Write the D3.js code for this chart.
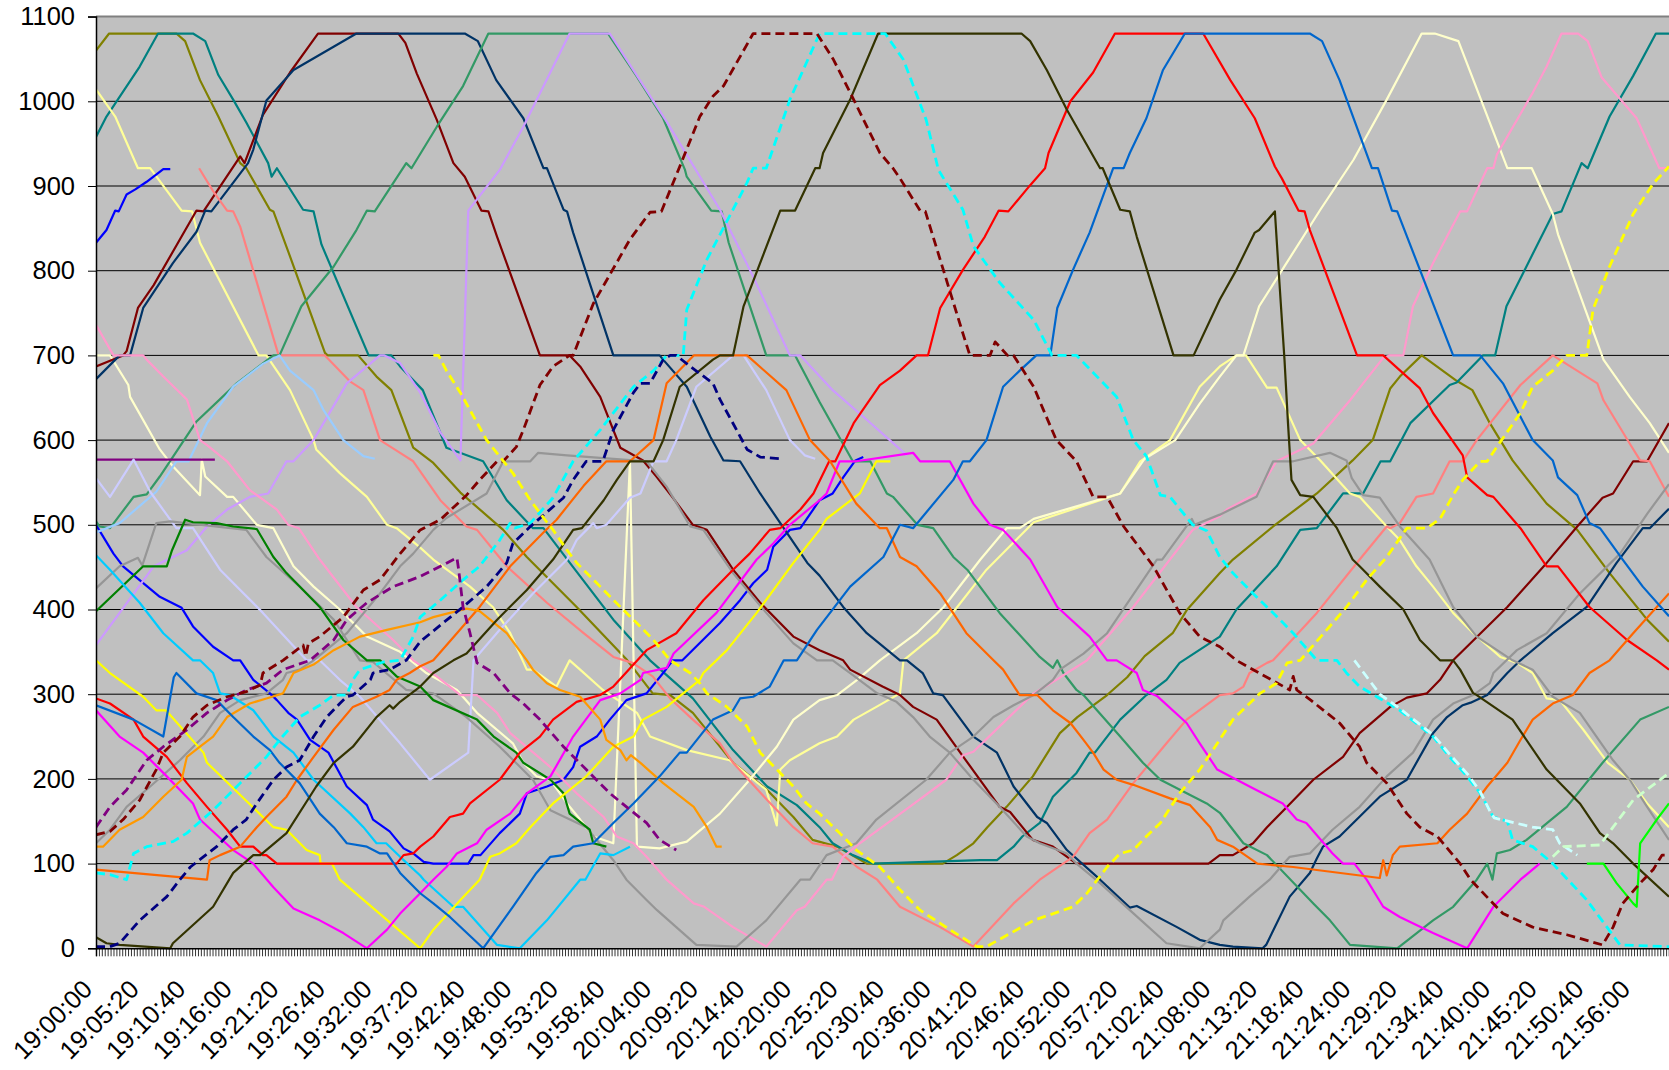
<!DOCTYPE html>
<html>
<head>
<meta charset="utf-8">
<script src="https://cdn.jsdelivr.net/npm/d3@7"></script>
<style>
  body { margin: 0; background: #fff; }
  svg { display: block; font-family: "Liberation Sans", Arial, sans-serif; }
</style>
</head>
<body>
<div id="chart"></div>
<script>
// Each series: [minutes after 19:00:00, position]
const olive = [[0,1060],[1.5,1080],[9.2,1080],[10.2,1071],[11.9,1025],[14,982],[16.5,927],[17.2,921],[19.9,872],[20.3,870],[22.2,817],[26.2,703],[26.5,700],[30,700],[32.1,675],[33.8,659],[36.3,591],[37.1,585],[38.6,573],[41.7,538],[46.6,494],[49.3,462],[55,403],[60.8,340],[63.7,301],[65.7,299],[68.3,278],[72.9,219],[76.8,187],[79.8,155],[82,128],[84.8,120],[88.2,100],[96.9,100],[98.5,110],[100.4,124],[102,143],[104.2,167],[107.2,203],[110.3,254],[112.3,273],[115.7,299],[118,320],[120,345],[123.2,372],[124.8,399],[128.6,443],[130.1,459],[134.7,498],[139.7,537],[143.8,576],[146.1,600],[148.1,661],[149.2,675],[151.7,700],[155.7,670],[157.5,659],[159.5,620],[162.1,576],[166,525],[169.5,494],[173.2,443],[177.5,388],[180,362]];
const teal = [[0,958],[1.2,982],[5,1041],[7.1,1080],[11.1,1080],[12.5,1071],[14,1031],[15.7,1002],[17.2,975],[19.7,927],[20.1,911],[20.7,921],[23.7,872],[24.9,870],[25.8,831],[31.2,700],[33.8,700],[34.8,687],[37.4,659],[40.1,591],[44.3,575],[47,529],[50,496],[51.2,496],[54.6,450],[59.2,388],[63.4,340],[68.3,295],[72.9,234],[76.8,191],[80.2,169],[82.8,143],[84.3,124],[86.6,110],[88.9,100],[101.2,104],[103.1,104],[105,120],[106,132],[108,148],[109.5,179],[112.2,207],[113.7,231],[114.3,231],[117.2,270],[120.2,299],[122.5,317],[124,337],[128.6,368],[130.5,400],[135.1,451],[137.8,494],[139.7,496],[142.7,537],[145,537],[147,575],[148.1,575],[150.4,620],[154.9,665],[155.7,668],[158.7,700],[160.1,700],[161.4,758],[163.3,797],[166.7,867],[167.7,870],[170,927],[170.7,921],[173.2,982],[175.9,1030],[178.5,1080],[180,1080]];
const darkRed = [[0,687],[3.1,700],[3.5,705],[4.8,756],[6.6,783],[11.5,871],[12.3,870],[16.5,935],[17,927],[19.1,984],[22.2,1034],[25.4,1080],[34.6,1080],[35.4,1069],[36.7,1033],[39,978],[40.9,927],[42.2,911],[44.1,871],[44.9,870],[45.9,840],[50.8,700],[54.2,700],[55.4,687],[57.7,651],[60,591],[62.6,576],[64.2,556],[66,532],[68.3,500],[69.9,494],[72.9,447],[76,408],[79.8,368],[82.8,352],[85.5,340],[86.3,329],[90,309],[92,299],[93.5,285],[96.2,270],[98.9,231],[103.4,167],[104.6,161],[107.2,128],[109.5,120],[112.2,100],[127.3,100],[128.6,110],[130.1,110],[132.4,124],[134,143],[136.3,167],[139.3,199],[142.7,226],[144.6,254],[148.1,285],[150,296],[152.3,301],[153.8,317],[155.3,340],[161.5,403],[166,455],[169.5,498],[172.4,532],[173.6,537],[175.9,575],[177.5,575],[180,620]];
const navyBlue = [[0,672],[2.7,700],[3.9,700],[5.4,756],[8.8,809],[11.5,846],[12.5,871],[13.2,870],[17.4,927],[18,943],[19.5,1001],[22.6,1037],[29.8,1080],[42.2,1080],[43.7,1071],[45.8,1025],[48.9,980],[51.2,921],[51.6,921],[53.5,872],[53.9,870],[54.6,845],[59.2,700],[64.5,700],[64.9,695],[67.6,663],[70.3,604],[71.8,576],[73.7,575],[76,537],[81.4,455],[82.8,440],[85.5,403],[88.2,372],[92,340],[92.8,340],[94.6,325],[95.8,301],[96.9,299],[100.4,250],[103.1,231],[105,191],[107.7,155],[108.8,148],[111.1,116],[114.9,81],[118.3,48],[119.1,50],[123.7,25],[126.3,10],[128.6,4],[130.1,2],[133.5,0],[133.9,4],[136.6,61],[138.9,89],[139.7,106],[140.4,120],[142.3,132],[146.9,179],[150,199],[153,254],[154.6,273],[156.4,287],[157.3,290],[159.2,299],[161.5,325],[163,340],[166.7,372],[170.6,403],[174,455],[177,496],[177.8,496],[180,519]];
const blueShort = [[0,833],[1.2,848],[2.2,871],[2.6,870],[3.5,890],[4.5,896],[5.8,905],[7.7,920],[8.5,920]];
const blue = [[0,500],[2,466],[3.1,451],[7.3,415],[9.8,402],[11.1,380],[13.4,356],[15.7,340],[16.5,340],[18,317],[19.9,301],[20.7,293],[22,278],[23,270],[24.5,246],[26.6,231],[28.7,191],[31,169],[31.7,152],[33.6,138],[35.2,118],[36.3,112],[37.5,102],[38.6,100],[42.6,100],[43.2,110],[44,110],[46.2,136],[48.5,159],[49.3,183],[51.6,191],[53.5,199],[54.6,214],[55.4,238],[57.3,250],[58.8,270],[60.7,293],[63,301],[64.9,325],[66,340],[67.1,340],[71.4,384],[73.7,411],[75.2,431],[76.8,447],[77.5,474],[79.4,494],[80.6,496],[82.8,529],[84.3,537],[85.5,556],[86.9,576],[87.8,580]];
const salmon = [[11.8,921],[13.4,894],[15,871],[15.7,870],[16.5,852],[20.9,700],[26.2,700],[29.1,669],[30.6,659],[32.5,600],[34.8,585],[36.3,575],[39.4,529],[42.4,498],[43.6,494],[47,451],[51.6,408],[55.8,372],[59.2,344],[61.4,337],[63.7,321],[65.7,295],[68.3,270],[71.4,242],[72.9,219],[76.8,175],[79.8,143],[82,124],[84.3,120],[87.1,96],[89.4,81],[92,49],[96.6,25],[100.4,2],[105,53],[108,81],[111.8,108],[113.7,136],[115.7,152],[118.7,195],[122.5,242],[124.8,270],[128.6,299],[130.1,301],[131.3,309],[132,325],[134,337],[134.7,340],[139.7,396],[144.6,459],[147.7,498],[148.1,496],[149.2,502],[151.1,533],[153,537],[154.9,575],[156.4,575],[158,600],[163,665],[166.7,700],[171.8,667],[172.5,647],[175.5,596],[176.7,576],[177.8,575],[180,533]];
const seaGreen = [[0,504],[0.4,498],[1.6,496],[4.3,533],[5.8,536],[7.3,557],[11.5,622],[16.1,667],[20.3,700],[21,700],[23.5,758],[27.2,805],[29.8,848],[31,871],[31.9,870],[35.5,927],[36.1,921],[39,970],[42,1018],[44.9,1080],[58.6,1080],[61.9,1029],[64.9,980],[67.4,919],[67.6,911],[70.4,871],[71.6,870],[72.4,833],[76.7,700],[80,700],[82.8,645],[86.6,575],[88.6,575],[90.5,537],[91.2,533],[94,500],[95.8,496],[98.1,462],[99.7,447],[103.4,396],[108,344],[109.5,331],[110,340],[110.7,325],[112.2,305],[113,299],[117.2,250],[119.8,219],[121.8,199],[127.1,171],[128.6,160],[130.1,140],[131.3,124],[134,110],[139.3,53],[141.2,33],[143.5,4],[148.9,0],[153,33],[155.3,49],[158,81],[159.2,100],[159.8,81],[160.3,112],[161.8,116],[163.7,128],[168.3,167],[172.4,219],[176.7,270],[180,285]];
const lavender = [[0,358],[6.6,451],[10.4,470],[12.7,498],[15,518],[17.6,533],[19.7,537],[21.8,575],[22.6,575],[24.9,600],[28.7,667],[32.5,700],[33,700],[34.8,691],[37.1,656],[39.4,609],[41.7,576],[42.6,871],[46.2,919],[48.9,970],[54.2,1080],[58.8,1080],[65.3,976],[71.4,872],[75.2,793],[79.4,700],[80.6,700],[84.3,659],[88.2,624],[92.8,582]];
const lightBlue = [[0,491],[2.7,502],[6.9,539],[9.2,575],[10.6,575],[12.7,620],[15.7,663],[19.1,690],[21,700],[22.2,682],[24.9,659],[26,636],[28.3,600],[30.6,581],[31.9,578]];
const pink = [[0,736],[2,700],[5.4,700],[5.8,695],[7.7,675],[10.4,648],[11.9,600],[12.7,594],[15,575],[17.6,541],[20.7,518],[22,500],[23.2,496],[25.6,459],[29.8,403],[34,364],[36.3,340],[39,321],[41.7,299],[43.6,299],[45.9,278],[47.4,254],[52,214],[55,183],[58.1,155],[59.6,132],[61.5,124],[63,108],[65.3,81],[68.4,53],[69.6,49],[72.9,25],[76.7,2],[80.2,45],[81.1,49],[83.6,81],[84.2,81],[85.5,108],[87.4,124],[93.1,167],[97.3,199],[99.2,228],[100.4,232],[104.2,270],[107.3,301],[109.9,317],[111.1,325],[113.4,340],[118.7,403],[125.5,494],[128.6,510],[129.4,518],[132.8,537],[135.1,575],[139.3,596],[143.5,647],[145,667],[147.3,697],[148,700],[149.6,700],[150.7,758],[153,809],[156.1,870],[156.9,870],[159.2,921],[159.9,921],[160.3,937],[164.4,1010],[166,1041],[167.7,1080],[169.6,1080],[170.7,1071],[172.3,1028],[176.3,980],[178.9,921],[180,921]];
const purple = [[0,577],[13.6,577]];
const periwinkle = [[0,555],[1.6,533],[4.3,577],[6.2,539],[9.2,496],[11.1,496],[14.2,447],[19.1,396],[24.1,340],[25.6,340],[27.9,317],[30.2,297],[34.8,242],[38.2,199],[42.6,231],[43.2,340],[46.2,376],[50,419],[53.9,459],[55,482],[56.9,502],[57.3,496],[58.4,500],[61.1,532],[62.3,537],[63.8,575],[65.3,575],[66.4,600],[68.7,663],[72.9,700],[74.1,700],[76.7,659],[79.4,600],[81.1,582],[82.3,578]];
const grayA = [[0,425],[2.7,451],[4.8,461],[5.3,452],[6.9,502],[8.5,504],[17.2,494],[19.5,462],[23.3,427],[27.2,388],[30.2,340],[31.7,338],[35.5,305],[38.6,301],[42.4,273],[46.2,238],[50,199],[52,163],[56.1,143],[59.2,104],[60.7,81],[63,57],[64.2,45],[68.7,4],[73.3,2],[76.7,33],[80.6,81],[81.7,81],[83.6,110],[87,124],[89.3,152],[95,199],[97.7,231],[100.4,250],[102.7,273],[105,287],[107.3,299],[109.5,317],[110.3,329],[113,348],[115.7,372],[121.4,459],[122,459],[125.4,507],[125.7,500],[128.6,512],[132.8,533],[134.7,575],[137,575],[141.2,585],[143.1,576],[143.7,555],[145,535],[146.9,532],[149.2,498],[152.6,459],[155.3,403],[158,368],[162.1,340],[164.4,329],[166.7,297],[169.8,278],[173.6,222],[175.5,199],[177.5,167],[180,128]];
const grayB = [[0,124],[1.6,140],[3.5,167],[6.2,191],[9.6,222],[12.3,250],[14.2,278],[16.5,293],[19.5,301],[21.4,317],[21.8,325],[23.3,329],[24.9,340],[28.7,372],[32.5,419],[34.8,451],[36.3,466],[38.6,494],[40.1,508],[44.7,537],[46.6,575],[49.7,575],[50.6,585],[53.9,582],[61.5,576],[63,575],[65.3,545],[68,498],[69.5,494],[72.9,443],[76.7,396],[79.8,360],[82.5,340],[84.3,340],[86.3,325],[89.4,301],[91.6,291],[93.5,273],[95.4,250],[97.7,231],[100.4,199],[103.4,167],[106.5,132],[108,124],[111.1,112],[112.2,100],[114.9,77],[118.3,45],[122.5,6],[126.3,0],[128.6,22],[129,33],[132,61],[134.3,81],[136.6,108],[138.9,112],[141.5,140],[144.6,167],[147.7,203],[150.7,231],[153,270],[155.3,289],[157.6,299],[159.5,313],[159.9,325],[162.6,352],[166,372],[169.8,419],[174.4,466],[177.5,513],[180,548]];
const green = [[0,398],[5.4,451],[8.1,451],[8.7,470],[10.2,506],[11.1,503],[13.8,502],[15.7,498],[18.4,495],[20.3,462],[21.8,443],[25.6,403],[28.3,364],[31,340],[32.5,340],[34.4,321],[37.1,309],[38.6,293],[43.6,270],[45.5,250],[48.1,231],[48.9,219],[52,199],[53.5,183],[54.2,159],[56.5,140],[56.9,124],[58.4,120]];
const skyBlue = [[0,464],[1.6,447],[5,408],[7.7,372],[11.1,340],[11.9,340],[13.4,325],[14.2,301],[15.3,299],[18,281],[20.3,250],[22.6,231],[24.9,199],[29.1,159],[30.6,143],[32.1,124],[33.2,124],[34.8,108],[37.1,86],[37.5,81],[40.9,49],[42,49],[45.9,4],[48.5,0],[51.6,33],[55.4,81],[56,81],[57.7,112],[59.2,110],[61.1,120]];
const yellow = [[0,340],[1.6,325],[5.4,297],[6.9,281],[8,281],[12.3,231],[12.7,219],[20.3,143],[21.8,140],[24.1,116],[25.6,110],[25.7,100],[27,100],[27.9,81],[37.1,0],[38.6,22],[41.7,57],[43.9,81],[45.1,108],[46.2,112],[48.1,124],[49.7,143],[52.3,171],[56.1,203],[59.2,238],[61.5,250],[62.6,270],[65.3,285],[67.2,301],[69.1,317],[69.5,325],[72.2,352],[75.6,396],[79.8,455],[82.8,494],[83.6,507],[87.4,537],[89.3,575],[90.9,575]];
const red = [[0,295],[1.6,289],[4.3,270],[5.4,250],[8.1,226],[10.4,195],[12.7,167],[15,140],[16.5,120],[18,120],[19.1,110],[19.5,110],[20.7,100],[34.4,100],[35.2,110],[36.3,112],[37.1,120],[38.6,132],[40.5,155],[42,159],[42.8,171],[46.2,199],[48.5,231],[50.8,250],[52.3,270],[55,291],[57.7,299],[59.2,309],[63,352],[66.4,372],[69.5,411],[72.9,447],[74.8,466],[77.1,494],[78.3,496],[80.6,518],[82.1,537],[83.9,575],[84.6,575],[86.7,620],[89.7,665],[92,682],[93.9,700],[95.2,700],[96.6,756],[99.2,801],[101.7,840],[103.3,871],[104.4,870],[106.9,901],[108.6,921],[109,939],[111.5,1000],[114.1,1034],[116.6,1080],[126.7,1080],[129.8,1025],[132.6,980],[134.9,923],[135.7,909],[137.6,871],[138.3,870],[138.9,848],[144.3,700],[147.3,700],[151.5,661],[153,632],[156.4,582],[156.9,556],[159.2,535],[159.9,533],[163,496],[166,451],[167.3,451],[170.9,403],[175.2,364],[178.6,340],[180,329]];
const magenta = [[0,281],[2.7,250],[5.4,231],[8.1,203],[11.1,171],[11.9,152],[15.7,116],[18,100],[20.3,72],[22.6,47],[25.6,33],[28.3,18],[31,0],[33.3,22],[34.8,41],[37.1,65],[38.6,81],[40.1,96],[41.3,112],[43.6,124],[44.7,140],[47.4,159],[49.3,183],[52,203],[54.6,250],[57.7,293],[60,301],[62.3,317],[62.6,325],[65.3,331],[66.1,348],[71,396],[75.6,459],[77.5,478],[79.4,500],[82.8,529],[83.6,537],[85.1,575],[87,575],[93.5,585],[94.3,575],[97.7,575],[100.4,525],[102.3,500],[103.8,494],[106.9,459],[110,403],[113.7,368],[115.7,340],[116.8,340],[119.1,325],[119.8,305],[121.4,298],[124.8,266],[126.3,242],[128.3,211],[132,191],[135.8,171],[137.4,152],[138.5,148],[141.5,112],[142.7,100],[144,100],[145.4,81],[147.3,49],[149.2,37],[153,18],[156.9,0],[159.9,49],[163,81],[165.2,100]];
const orange = [[0,93],[12.7,81],[13,104],[14.2,110],[16.5,120],[18.4,143],[19.5,155],[21.8,179],[23,199],[24.9,226],[27.2,258],[29.4,285],[32.1,297],[33.6,305],[34.4,317],[35.9,325],[37.1,333],[38.6,340],[41.3,372],[43.9,403],[47.4,451],[51.2,491],[52.7,506],[55.8,546],[58.4,575],[61.1,575],[63.8,600],[65.3,667],[68.4,700],[74.5,700],[79,659],[81.7,600],[84,575],[87,525],[89.7,496],[90.5,496],[92,462],[93.9,451],[96.6,419],[99.6,372],[102.7,340],[103.8,329],[105.7,299],[107.7,299],[109.5,281],[111.5,266],[113,246],[114.1,231],[115.3,211],[116.8,199],[118.7,193],[122.9,177],[125.2,169],[127.5,143],[128.3,128],[130.1,120],[132.9,100],[137,96],[146.9,83],[147.3,104],[147.7,86],[148.4,110],[149.2,120],[153.5,124],[154.9,140],[156.9,159],[159.2,191],[161.5,219],[163,246],[164.4,270],[166.7,289],[169,299],[170.9,325],[173.2,340],[175.9,372],[180,419]];
const lightOrange = [[0,120],[0.8,120],[2.7,140],[5.4,155],[7.7,179],[9.8,199],[10.4,226],[11.9,238],[13.4,250],[15,273],[17.6,289],[19.5,295],[21.4,301],[22.6,325],[24.9,335],[27.2,352],[30.2,368],[33.3,376],[37.1,385],[38.6,391],[42.4,401],[43.9,398],[47,372],[49.3,340],[50,329],[51.6,313],[53.1,305],[55.4,297],[57.7,270],[58.4,246],[60,234],[60.7,222],[61.2,228],[62.3,219],[64.9,195],[68.4,167],[69.9,143],[71,120],[71.6,120]];
const paleYellowA = [[0,1014],[2.2,982],[4.8,921],[6.2,921],[9.8,871],[11,870],[11.9,833],[18.6,700],[19.5,700],[22.2,659],[24.9,600],[25.2,589],[27.9,561],[31,533],[33.3,500],[34.4,496],[37.1,473],[38.6,459],[42.8,427],[45.4,403],[47.4,372],[49.3,329],[50,329],[52.7,309],[54.2,340],[55.4,329],[58,305],[61.9,278],[63.4,250],[67.6,234],[72.5,222],[76.7,187],[77.9,145],[78.3,211],[79.4,222],[82.8,242],[84.8,250],[86.7,270],[89.3,285],[92,301],[92.4,340],[96.2,372],[101.9,447],[107.3,503],[117.2,537],[119.5,575],[122.9,600],[126.3,663],[128.6,687],[130.5,700],[131.6,700],[134,662],[135.1,662],[137.8,600],[140.1,576],[143.5,537],[144.6,533],[147.7,498],[149.2,482],[151.1,451],[153,427],[155.3,396],[157.6,372],[160.7,344],[162.6,337],[164.4,325],[166,295],[167.5,293],[170.2,258],[173,219],[175.5,199],[177.5,171],[180,143]];
const paleYellowB = [[0,700],[1.6,700],[3.7,665],[3.9,651],[7.3,589],[8.8,569],[11.9,535],[12.1,577],[12.5,557],[15,533],[15.7,533],[18.4,500],[20.3,496],[22.6,451],[24.9,427],[27.9,400],[31,368],[34.8,350],[37.8,325],[41.3,305],[43.6,278],[47.7,242],[48.9,219],[50.4,203],[52,199],[53.9,171],[55.4,152],[56.9,132],[59.2,124],[61.1,575],[61.9,120],[64.5,118],[67.6,126],[71.4,159],[74.8,199],[77.9,238],[79.8,270],[82.8,293],[84.8,299],[87.1,317],[89.7,340],[93.9,372],[97,403],[101.2,459],[104.2,496],[105.7,496],[107.3,507],[117.2,537],[120,578],[123.5,600],[126.3,643],[128.6,675],[130.5,700],[131.3,700],[133.1,758],[140.1,872],[143.9,931],[147.7,1002],[151.7,1080],[153.2,1080],[155.9,1071],[161.5,921],[164.3,921],[166.7,867],[167.3,843],[172.5,695],[175.5,651],[177.8,620],[180,585]];
const mediumBlue = [[0,287],[4.3,270],[7.7,250],[8.9,320],[9.2,325],[11.5,301],[13.8,293],[15.7,273],[18,250],[19.9,234],[21,219],[23.3,195],[25.6,159],[27.2,143],[28.7,124],[31,120],[32.5,112],[33.3,112],[34.8,89],[37.1,65],[38.6,53],[40.5,37],[44.3,0],[47.7,49],[50.4,89],[52,108],[53.5,110],[54.6,120],[56.9,124],[59.2,148],[61.5,171],[64.5,203],[66.8,231],[67.6,231],[70.6,270],[72.9,281],[73.7,295],[75.2,297],[77.1,309],[78.7,340],[80.2,340],[82.5,376],[86.3,427],[90.1,462],[92,500],[93.5,496],[98.1,553],[99.2,575],[100,575],[101.9,600],[103.8,663],[105.7,682],[107.6,700],[109.2,700],[110,756],[111.8,801],[113.7,845],[116.4,921],[117.6,921],[118.3,939],[120.2,980],[122.1,1037],[124.6,1080],[138.9,1080],[140.3,1071],[142.3,1025],[143.9,980],[146,921],[146.7,921],[148.3,871],[148.9,870],[155.3,700],[158.4,700],[161,667],[164.4,600],[166.7,576],[167.3,556],[169.5,535],[170.9,502],[172.1,496],[174.7,459],[177,427],[180,392]];
const darkOlive = [[0,13],[1.2,6],[2.7,4],[8.5,0],[8.8,6],[13.4,49],[15.7,89],[18,110],[18.8,110],[21.8,136],[25.2,191],[27.2,219],[29.4,238],[32.1,273],[33.6,287],[34,283],[34.8,291],[37.1,309],[38.6,325],[40.9,340],[42.4,348],[45.9,388],[49.3,423],[52.3,459],[54.6,494],[55.6,496],[58.1,529],[59.6,553],[61.1,575],[63.8,575],[64.9,600],[66.8,663],[70.6,695],[71.4,700],[72.9,700],[74.1,758],[78.3,871],[80,871],[80.6,884],[82.3,921],[82.8,921],[83.2,939],[86.3,1002],[89.5,1080],[105.9,1080],[106.9,1071],[108.8,1037],[111.1,990],[114.9,921],[115.2,921],[117.2,872],[118.3,870],[119.1,840],[123.3,700],[125.6,700],[128.6,766],[130.5,801],[132.6,845],[133.1,848],[134.9,870],[135.3,805],[136,695],[136.4,620],[136.8,553],[137.8,535],[139.3,533],[142,496],[143.8,459],[144.6,451],[146.9,427],[149.6,400],[151.5,364],[153.8,340],[155.3,340],[156.1,329],[157.6,301],[158,299],[162.1,270],[166,211],[169.8,171],[172.1,136],[173.6,124],[175.9,100],[180,61]];
const cyanDash = [[0,89],[1.6,87],[3.5,81],[4.3,112],[5.8,120],[8.8,126],[10.4,136],[13.4,163],[16.5,195],[19.5,226],[21,246],[23.3,273],[25.6,287],[27.2,299],[28.7,299],[29.4,317],[30.2,329],[32.9,338],[34.8,340],[36.3,368],[37.1,391],[39.4,411],[42,435],[43.9,451],[46.2,482],[47.4,502],[47.9,496],[49.7,502],[52.3,532],[54.6,575],[57.7,612],[61.5,663],[63.8,682],[65.3,700],[67.2,700],[67.6,754],[69.9,813],[74.5,904],[75.2,921],[76.7,921],[79.4,1002],[82.8,1080],[90.3,1080],[92.4,1049],[95,978],[96.4,919],[99.2,872],[100.4,829],[103.4,786],[107.3,742],[109.4,700],[112.2,700],[116.8,651],[118.7,600],[120.2,581],[121.8,535],[122.9,533],[125.5,500],[127.1,493],[128.6,462],[130.1,443],[132.4,419],[134.7,396],[137,372],[139.7,340],[142,340],[143.1,325],[144.6,309],[146.9,295],[149.2,281],[153,250],[154.9,226],[156.9,203],[158.4,183],[159.9,155],[161.5,150],[162.1,128],[164.4,120],[166.7,100],[170.6,57],[172.9,25],[174.4,4],[180,2]];
const navyDash = [[0,2],[1.6,2],[2.7,6],[5,33],[8.1,61],[9.6,81],[10.8,96],[13.8,120],[15.7,140],[17.2,152],[18.4,171],[20.3,199],[21.8,214],[23.3,222],[24.9,250],[26.4,273],[27.9,289],[28.7,297],[29.4,299],[31.4,317],[31.7,325],[33.6,329],[35.5,340],[37.1,362],[39.7,384],[42,403],[44.7,427],[47,455],[47.7,478],[49.7,498],[53.5,532],[54.6,553],[56.1,575],[58,575],[59.2,612],[61.5,656],[62.3,667],[63.4,667],[64.9,695],[65.7,700],[66.4,700],[68,687],[70.6,667],[71.4,648],[73.3,612],[74.5,589],[76,580],[78.3,578]];
const purpleDash = [[0,143],[1.6,167],[3.5,187],[5.8,222],[7.7,238],[10.4,258],[12.7,278],[15,293],[17.2,305],[19.5,313],[21.4,329],[24.5,340],[27.2,364],[28.7,388],[31,408],[34,427],[37.1,439],[41.3,461],[41.5,447],[42,403],[42.8,372],[43.6,337],[45.5,325],[47.4,301],[48.9,289],[50.8,270],[53.5,238],[56.1,211],[58.8,183],[60.7,167],[63,148],[64.5,128],[66.4,116]];
const darkRedDash = [[0,134],[1.6,138],[3.1,152],[5,175],[6.9,211],[7.7,231],[9.6,250],[11.1,273],[12.7,287],[15,297],[17.2,303],[18.8,311],[19.1,325],[21.4,340],[23.7,358],[24,345],[24.3,360],[25.6,368],[28.3,391],[30.6,423],[32.5,435],[34.8,466],[37.1,494],[39.4,506],[42.4,535],[43.9,553],[45.9,575],[46.6,575],[48.1,592],[48.9,612],[50.8,665],[52.3,687],[54.2,700],[54.6,700],[56.9,761],[61.1,837],[63.4,869],[64.7,870],[66.8,923],[69.1,982],[70.6,1006],[71.8,1018],[75.2,1080],[82.5,1080],[84.4,1049],[86.7,1002],[89.7,939],[91.2,921],[92,909],[94.3,871],[94.9,870],[96.6,813],[99.2,726],[100,700],[102.3,700],[102.9,716],[104.3,700],[105,700],[107.3,663],[108.4,636],[109.9,600],[112.2,575],[114.1,533],[115.7,533],[117.6,498],[121,451],[124,396],[126.3,368],[128.6,356],[130.5,340],[131.7,333],[136.6,305],[137,321],[137.4,305],[139,293],[142.3,266],[144.6,238],[145.4,219],[147.7,195],[150,159],[151.5,143],[153.5,132],[156.1,100],[157.3,81],[159.5,57],[161,41],[164.4,25],[168.3,16],[172.4,4],[173.6,25],[174.7,53],[176.7,77],[178.2,93],[179.2,110],[180,110]];
const yellowDash = [[38.6,700],[39.2,700],[40.1,682],[41.7,656],[44.7,600],[47.7,561],[49.7,529],[51.6,503],[52.3,494],[53.9,470],[55,455],[57.7,427],[60,403],[61.5,388],[63.8,364],[65.7,340],[68,325],[69.1,313],[69.9,301],[72.2,285],[74.5,262],[76,231],[78.3,207],[79.8,191],[81.3,171],[82.8,159],[85.1,136],[87,116],[89.7,96],[92,69],[94.3,45],[97.7,22],[100.8,2],[101.9,2],[107.3,33],[111.8,49],[113.4,65],[115.7,96],[117.2,112],[118.7,116],[119.8,128],[121.8,148],[124,183],[126.3,211],[127.8,234],[130.1,270],[133.2,301],[135.1,313],[136.3,337],[137.8,340],[140.5,372],[143.1,403],[145.4,435],[147.7,462],[150,496],[152.3,496],[153.8,507],[155.3,535],[156.4,553],[158.4,575],[159.2,575],[160.3,592],[163,632],[164.4,663],[166.7,682],[168.3,700],[170.6,700],[171.3,754],[173.2,805],[175.9,867],[178.2,903],[180,923]];
const lightCyanDash = [[144,340],[146.9,300],[149.2,283],[153,252],[155,228],[157,205],[158.4,185],[159.6,160],[160,154],[164.4,143],[166.7,140],[167.5,124],[169.5,110]];
const lightGreenDash = [[166.7,108],[167.9,120],[172.1,122],[173.6,143],[175.9,175],[180,207]];
const brightGreen = [[170.6,100],[172.5,100],[174,77],[175.9,53],[176.3,49],[176.7,124],[178.6,152],[180,171]];

const yTicks = [0, 100, 200, 300, 400, 500, 600, 700, 800, 900, 1000, 1100];
const timeLabels = ['19:00:00','19:05:20','19:10:40','19:16:00','19:21:20','19:26:40','19:32:00','19:37:20',
  '19:42:40','19:48:00','19:53:20','19:58:40','20:04:00','20:09:20','20:14:40','20:20:00','20:25:20',
  '20:30:40','20:36:00','20:41:20','20:46:40','20:52:00','20:57:20','21:02:40','21:08:00','21:13:20',
  '21:18:40','21:24:00','21:29:20','21:34:40','21:40:00','21:45:20','21:50:40','21:56:00'];

const series = [
  { data: olive, color: '#808000' },
  { data: teal, color: '#008080' },
  { data: paleYellowA, color: '#FFFF99' },
  { data: paleYellowB, color: '#FFFFCC' },
  { data: blueShort, color: '#0000FF' },
  { data: blue, color: '#0000FF' },
  { data: darkRed, color: '#800000' },
  { data: navyBlue, color: '#003366' },
  { data: salmon, color: '#FF8080' },
  { data: seaGreen, color: '#339966' },
  { data: lavender, color: '#CC99FF' },
  { data: lightBlue, color: '#99CCFF' },
  { data: pink, color: '#FF99CC' },
  { data: purple, color: '#800080' },
  { data: periwinkle, color: '#CCCCFF' },
  { data: grayA, color: '#969696' },
  { data: grayB, color: '#969696' },
  { data: green, color: '#008000' },
  { data: skyBlue, color: '#00CCFF' },
  { data: yellow, color: '#FFFF00' },
  { data: red, color: '#FF0000' },
  { data: magenta, color: '#FF00FF' },
  { data: orange, color: '#FF6600' },
  { data: lightOrange, color: '#FF9900' },
  { data: mediumBlue, color: '#0066CC' },
  { data: darkOlive, color: '#333300' },
  { data: brightGreen, color: '#00FF00' },
  { data: cyanDash, color: '#00FFFF', dashed: true },
  { data: lightCyanDash, color: '#CCFFFF', dashed: true },
  { data: lightGreenDash, color: '#CCFFCC', dashed: true },
  { data: navyDash, color: '#000080', dashed: true },
  { data: purpleDash, color: '#800080', dashed: true },
  { data: darkRedDash, color: '#800000', dashed: true },
  { data: yellowDash, color: '#FFFF00', dashed: true }
];

const width = 1669, height = 1070;
const plot = { left: 96, right: 1669, top: 16.6, bottom: 948.3 };

// time string -> minutes after 19:00:00
const toMinutes = (s) => {
  const [h, m, sec] = s.split(':').map(Number);
  return (h - 19) * 60 + m + sec / 60;
};

const svg = d3.select('#chart')
  .append('svg')
  .attr('width', width)
  .attr('height', height);

const x = d3.scaleLinear().domain([0, 180]).range([plot.left, plot.right]);
const y = d3.scaleLinear().domain([0, 1100]).range([plot.bottom, plot.top]);

// plot background
svg.append('rect')
  .attr('x', plot.left)
  .attr('y', plot.top)
  .attr('width', plot.right - plot.left)
  .attr('height', plot.bottom - plot.top)
  .attr('fill', '#C0C0C0');

// gridlines
svg.append('g')
  .selectAll('line')
  .data(yTicks.filter(v => v > 0 && v < 1100))
  .join('line')
  .attr('x1', plot.left)
  .attr('x2', plot.right)
  .attr('y1', d => y(d))
  .attr('y2', d => y(d))
  .attr('stroke', '#000')
  .attr('stroke-width', 1);

// top border
svg.append('line')
  .attr('x1', plot.left).attr('x2', plot.right)
  .attr('y1', y(1100)).attr('y2', y(1100))
  .attr('stroke', '#808080')
  .attr('stroke-width', 2);

svg.append('clipPath')
  .attr('id', 'plot-clip')
  .append('rect')
  .attr('x', plot.left)
  .attr('y', plot.top - 2)
  .attr('width', plot.right - plot.left)
  .attr('height', plot.bottom - plot.top + 4);

const line = d3.line()
  .x(d => x(d[0]))
  .y(d => y(d[1]));

svg.append('g')
  .attr('clip-path', 'url(#plot-clip)')
  .selectAll('path')
  .data(series)
  .join('path')
  .attr('d', d => line(d.data))
  .attr('fill', 'none')
  .attr('stroke', d => d.color)
  .attr('stroke-width', d => d.dashed ? 2.8 : 2.2)
  .attr('stroke-dasharray', d => d.dashed ? '9,5' : null)
  .attr('stroke-linejoin', 'round');

// y axis
const yAxis = svg.append('g')
  .attr('transform', `translate(${plot.left},0)`)
  .call(d3.axisLeft(y).tickValues(yTicks).tickSize(8).tickPadding(13).tickFormat(d3.format('d')));
yAxis.select('.domain').attr('stroke', '#000').attr('stroke-width', 1.5);
yAxis.selectAll('.tick line').attr('stroke', '#000');
yAxis.selectAll('text')
  .attr('fill', '#000')
  .style('font-size', '25.5px')
  .style('font-family', '"Liberation Sans", Arial, sans-serif');

// x axis: one tick per 20 s category
const categoryTicks = d3.range(0, 180 + 1e-6, 1 / 3);
const xAxis = svg.append('g')
  .attr('transform', `translate(0,${plot.bottom})`)
  .call(d3.axisBottom(x).tickValues(categoryTicks).tickSize(8).tickFormat(''));
xAxis.select('.domain').attr('stroke', '#000').attr('stroke-width', 1.5);
xAxis.selectAll('.tick line').attr('stroke', '#000').attr('stroke-width', 0.8);

// x labels
const labelAxis = svg.append('g')
  .attr('transform', `translate(0,${plot.bottom})`)
  .call(d3.axisBottom(x)
    .tickValues(timeLabels.map(toMinutes))
    .tickSize(0)
    .tickFormat((d, i) => timeLabels[i]));
labelAxis.select('.domain').remove();
labelAxis.selectAll('text')
  .attr('x', 0)
  .attr('y', 0)
  .attr('dy', '0.35em')
  .attr('transform', 'translate(-9,36) rotate(-45)')
  .style('text-anchor', 'end')
  .attr('fill', '#000')
  .style('font-size', '25.5px')
  .style('font-family', '"Liberation Sans", Arial, sans-serif');
</script>
</body>
</html>
